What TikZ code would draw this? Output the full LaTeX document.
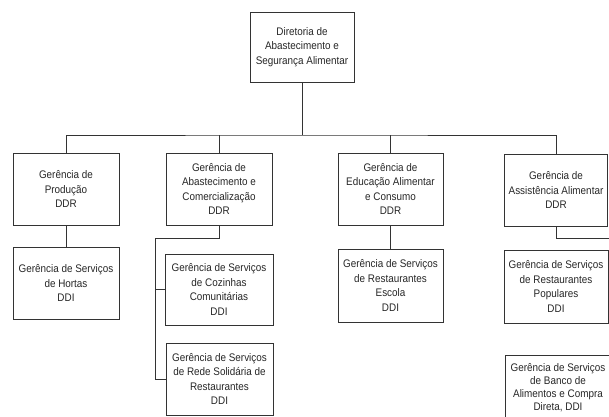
\documentclass[tikz,border=0pt]{standalone}
\usepackage{fontspec}
\setmainfont{Liberation Sans}[FakeStretch=0.9]

\begin{document}
\begin{tikzpicture}[x=1pt, y=-1pt,
    caixa/.style={draw=black!80, line width=0.9pt, align=center, inner sep=2pt,
      minimum width=106pt, minimum height=72pt, text=black!85,
      font=\fontsize{11}{14.5}\selectfont},
    liga/.style={draw=black!80, line width=0.9pt}]
  \clip (0,0) rectangle (609,416);

  % Diretoria
  \node[caixa, minimum width=104pt, minimum height=70pt] (dir) at (302,47)
    {Diretoria de\\Abastecimento e\\Segurança Alimentar};

  % Gerências DDR
  \node[caixa] (prod) at (66,189) {Gerência de\\Produção\\DDR};
  \node[caixa] (abast) at (219,189) {Gerência de\\Abastecimento e\\Comercialização\\DDR};
  \node[caixa, minimum width=105pt] (educ) at (390.5,189) {Gerência de\\Educação Alimentar\\e Consumo\\DDR};
  \node[caixa, minimum width=103pt] (assist) at (556,190) {Gerência de\\Assistência Alimentar\\DDR};

  % Gerências DDI
  \node[caixa] (hortas) at (66,283) {Gerência de Serviços\\de Hortas\\DDI};
  \node[caixa, minimum width=108pt, minimum height=71pt] (coz) at (219,289.5)
    {Gerência de Serviços\\de Cozinhas\\Comunitárias\\DDI};
  \node[caixa, minimum width=107pt] (rede) at (219.5,379)
    {Gerência de Serviços\\de Rede Solidária de\\Restaurantes\\DDI};
  \node[caixa, minimum width=105pt, minimum height=73pt] (escola) at (390.5,285.5)
    {Gerência de Serviços\\de Restaurantes\\Escola\\DDI};
  \node[caixa, minimum width=104pt, minimum height=73pt] (popul) at (556,286.5)
    {Gerência de Serviços\\de Restaurantes\\Populares\\DDI};
  \node[caixa, minimum height=66pt, font=\fontsize{11}{13}\selectfont] (banco) at (558,388)
    {Gerência de Serviços\\de Banco de\\Alimentos e Compra\\Direta, DDI};

  % Ligações
  \coordinate (bus) at (302,135);
  \draw[liga] (dir.south) -- (bus);
  \draw[liga] (prod.north) |- (bus) -| (assist.north);
  \draw[liga] (abast.north) -- (abast.north |- bus);
  \draw[liga] (educ.north) -- (educ.north |- bus);

  \draw[liga] (prod.south) -- (hortas.north);
  \draw[liga] (educ.south) -- (escola.north);

  \coordinate (c2) at (155,238);
  \draw[liga] (abast.south) |- (c2) |- (rede.west);
  \draw[liga] (coz.west) -- (coz.west -| c2);

  \coordinate (c4) at (612,238);
  \draw[liga] (assist.south) |- (c4);
\end{tikzpicture}
\end{document}
